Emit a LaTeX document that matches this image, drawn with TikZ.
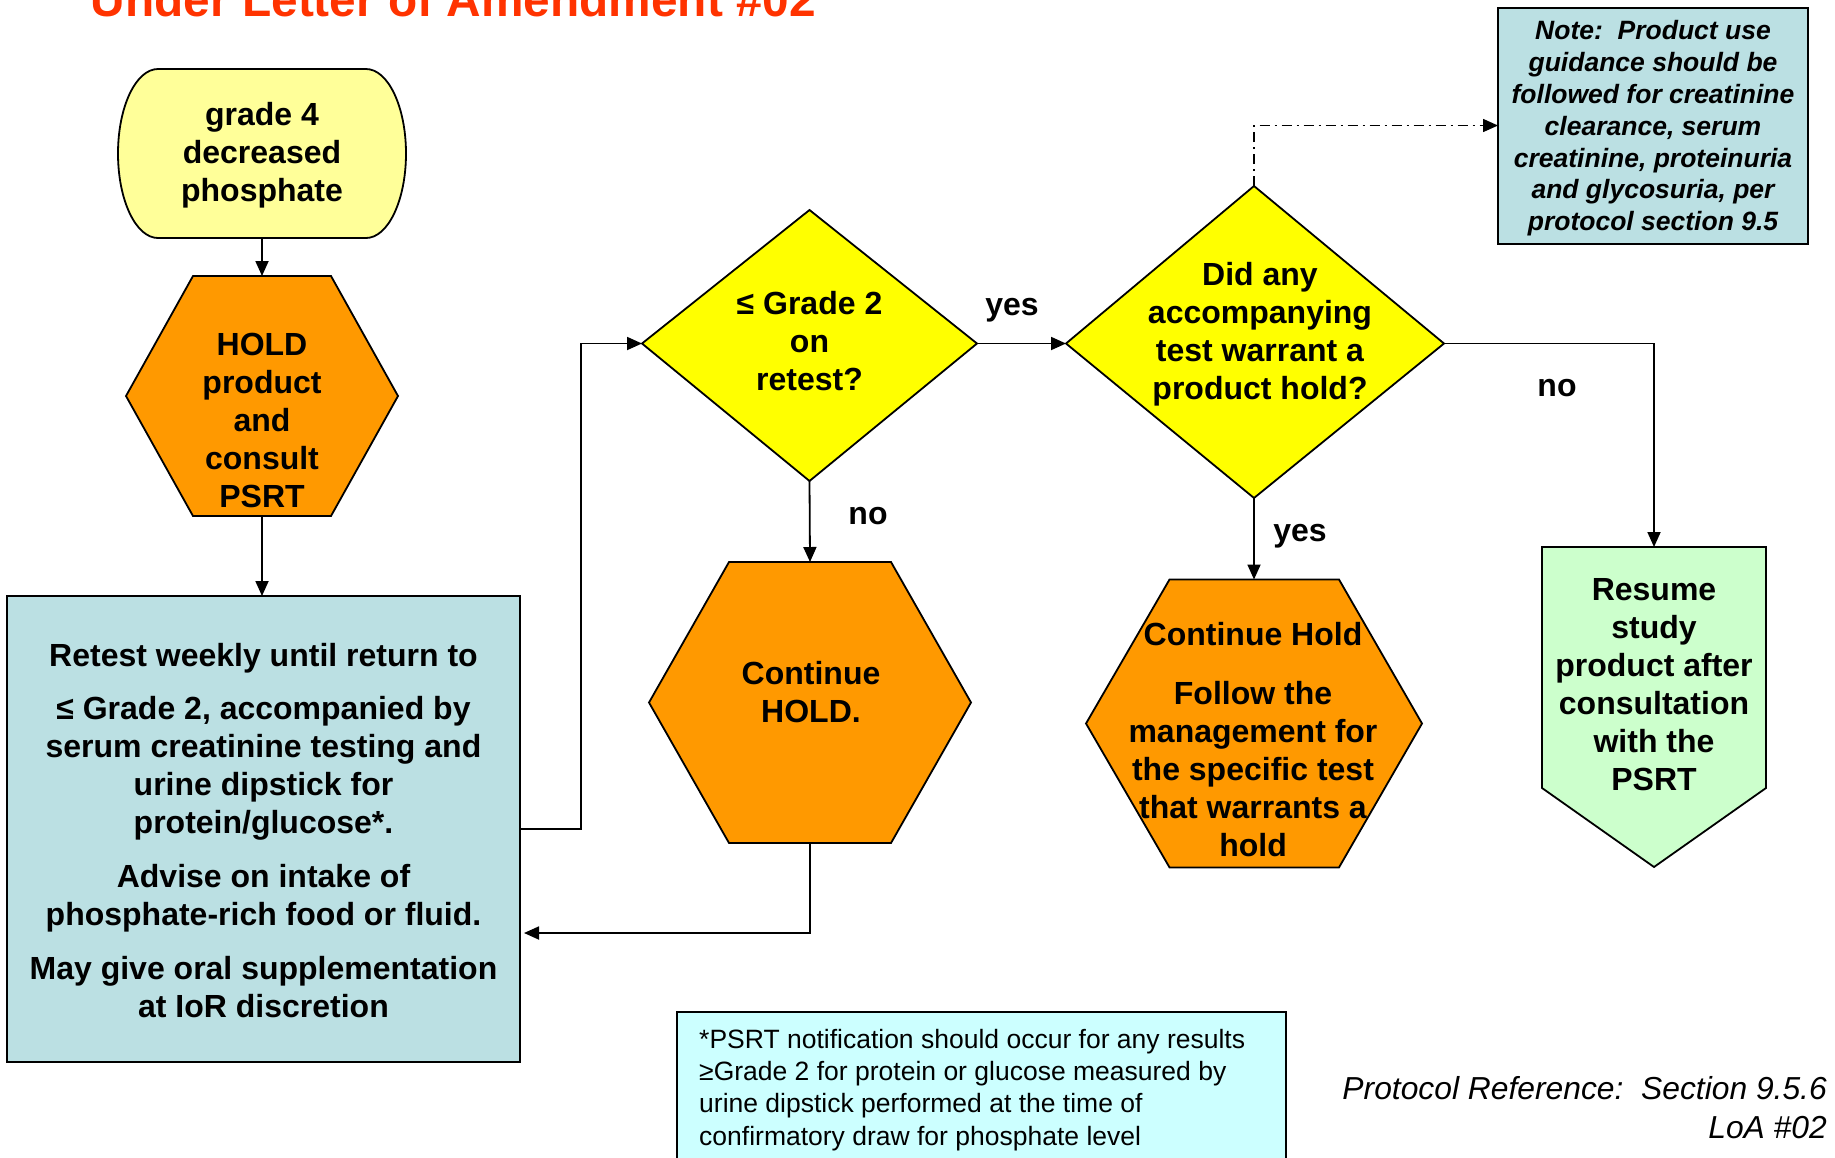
\documentclass[tikz,border=0pt]{standalone}
\usepackage{fontspec}
\setmainfont{Liberation Sans}
\usetikzlibrary{arrows.meta}
\definecolor{termY}{HTML}{FFFF99}
\definecolor{orng}{HTML}{FF9900}
\definecolor{yel}{HTML}{FFFF00}
\definecolor{tealbox}{HTML}{BBE0E3}
\definecolor{grn}{HTML}{CCFFCC}
\definecolor{cyanl}{HTML}{CCFFFF}
\definecolor{ttl}{HTML}{FF3300}
\begin{document}
\begin{tikzpicture}[x=1pt,y=-1pt,
  shp/.style={draw=black, line width=1.8pt, line join=miter},
  conn/.style={line width=1.8pt, -{Triangle[length=15pt,width=13pt]}},
  ddot/.style={line width=1.5pt, dash pattern=on 10pt off 5pt on 2pt off 5pt, -{Triangle[length=15pt,width=13pt]}},
  btxt/.style={font=\fontsize{32}{38}\selectfont\bfseries, align=center, anchor=base, inner sep=0pt},
  lbl/.style={font=\fontsize{32}{38}\selectfont\bfseries, anchor=base, inner sep=0pt},
  notetxt/.style={font=\fontsize{26.5}{31.9}\selectfont\bfseries\itshape, align=center, anchor=base, inner sep=0pt},
  foottxt/.style={font=\fontsize{26.5}{32.2}\selectfont, align=left, anchor=base west, inner sep=0pt},
  reftxt/.style={font=\fontsize{31.8}{38.4}\selectfont\itshape, align=right, anchor=base east, inner sep=0pt}
]
\clip (0,0) rectangle (1835,1157);
\fill[white] (0,0) rectangle (1835,1157);

% title
\node[font=\fontsize{47.8}{56}\selectfont\bfseries, text=ttl, anchor=base, inner sep=0pt] (title) at (453.5,16) {Under Letter of Amendment \#02};

% terminator
\draw[shp, fill=termY] (158,69) -- (366,69) .. controls (388.1,69) and (406,106.8) .. (406,153.5)
  .. controls (406,200.2) and (388.1,238) .. (366,238) -- (158,238)
  .. controls (135.9,238) and (118,200.2) .. (118,153.5)
  .. controls (118,106.8) and (135.9,69) .. (158,69) -- cycle;
\coordinate (t-s) at (262,238);
\node[btxt] (term) at (262,201) {grade 4\\decreased\\phosphate};

% hexagon 1
\draw[shp, fill=orng] (193,276) -- (331,276) -- (398,396) -- (331,516) -- (193,516) -- (126,396) -- cycle;
\coordinate (h1-n) at (262,276);
\coordinate (h1-s) at (262,516);
\node[btxt] (hold) at (262,507) {HOLD\\product\\and\\consult\\PSRT};

% left box
\draw[shp, fill=tealbox] (7,596) rectangle (520,1062);
\coordinate (box-n) at (262,596);
\coordinate (box-e1) at (520,829);
\coordinate (box-e2) at (520,933);
\node[btxt] (retest) at (263.5,1017) {Retest weekly until return to\\[15pt]
  ≤ Grade 2, accompanied by\\serum creatinine testing and\\urine dipstick for\\protein/glucose*.\\[16pt]
  Advise on intake of\\phosphate-rich food or fluid.\\[16pt]
  May give oral supplementation\\at IoR discretion};

% diamond 1
\draw[shp, fill=yel] (642,343.5) -- (809.5,210) -- (977,343.5) -- (809.5,481) -- cycle;
\coordinate (d1-w) at (642,343.5);
\coordinate (d1-e) at (977,343.5);
\coordinate (d1-s) at (809.5,481);
\node[btxt] (q1) at (809.5,390) {≤ Grade 2\\on\\retest?};

% hexagon 2
\draw[shp, fill=orng] (729,562) -- (891,562) -- (971,702.5) -- (891,843) -- (729,843) -- (649,702.5) -- cycle;
\coordinate (h2-n) at (810,562);
\coordinate (h2-s) at (810,843);
\node[btxt] (cont) at (811,722) {Continue\\HOLD.};

% diamond 2
\draw[shp, fill=yel] (1066,343.5) -- (1254,186) -- (1444,343.5) -- (1254,498) -- cycle;
\coordinate (d2-w) at (1066,343.5);
\coordinate (d2-n) at (1254,186);
\coordinate (d2-e) at (1444,343.5);
\coordinate (d2-s) at (1254,498);
\node[btxt] (q2) at (1260,399) {Did any\\accompanying\\test warrant a\\product hold?};

% note box
\draw[shp, fill=tealbox] (1498,8) rectangle (1808,244);
\coordinate (note-w) at (1498,125.5);
\node[notetxt] (note) at (1653,230.8) {Note:\ \ Product use\\guidance should be\\followed for creatinine\\clearance, serum\\creatinine, proteinuria\\and glycosuria, per\\protocol section 9.5};

% hexagon 3
\draw[shp, fill=orng] (1169.5,579.5) -- (1339,579.5) -- (1422,723.5) -- (1339,867.4) -- (1169.5,867.4) -- (1086,723.5) -- cycle;
\coordinate (h3-n) at (1254,579.5);
\node[btxt] (follow) at (1253,856.8) {Continue Hold\\[21pt]Follow the\\management for\\the specific test\\that warrants a\\hold};

% green pentagon
\draw[shp, fill=grn] (1542,547) -- (1766,547) -- (1766,788) -- (1654,867) -- (1542,788) -- cycle;
\coordinate (g-n) at (1654,547);
\node[btxt] (resume) at (1654,790) {Resume\\study\\product after\\consultation\\with the\\PSRT};

% footnote
\draw[shp, fill=cyanl] (677,1012) rectangle (1286,1180);
\node[foottxt] (foot) at (699,1145) {*PSRT notification should occur for any results\\≥Grade 2 for protein or glucose measured by\\urine dipstick performed at the time of\\confirmatory draw for phosphate level};

% protocol reference
\node[reftxt] (ref) at (1827,1138) {Protocol Reference:\ \ Section 9.5.6\\LoA \#02};

% connectors
\draw[conn] (t-s) -- (h1-n);
\draw[conn] (h1-s) -- (box-n);
\coordinate (j1) at (581,829);
\draw[conn] (box-e1) -- (j1) |- (d1-w);
\draw[conn] (d1-s) -- (h2-n);
\draw[conn, shorten >=4pt] (h2-s) |- (box-e2);
\draw[conn] (d1-e) -- (d2-w);
\draw[ddot] (d2-n) |- (note-w);
\draw[conn] (d2-e) -| (g-n);
\draw[conn] (d2-s) -- (h3-n);

% labels
\node[lbl] (no1) at (868,524) {no};
\node[lbl] (yes1) at (1012,315.7) {yes};
\node[lbl] (no2) at (1557,396) {no};
\node[lbl] (yes2) at (1300,541.5) {yes};
\end{tikzpicture}
\end{document}
